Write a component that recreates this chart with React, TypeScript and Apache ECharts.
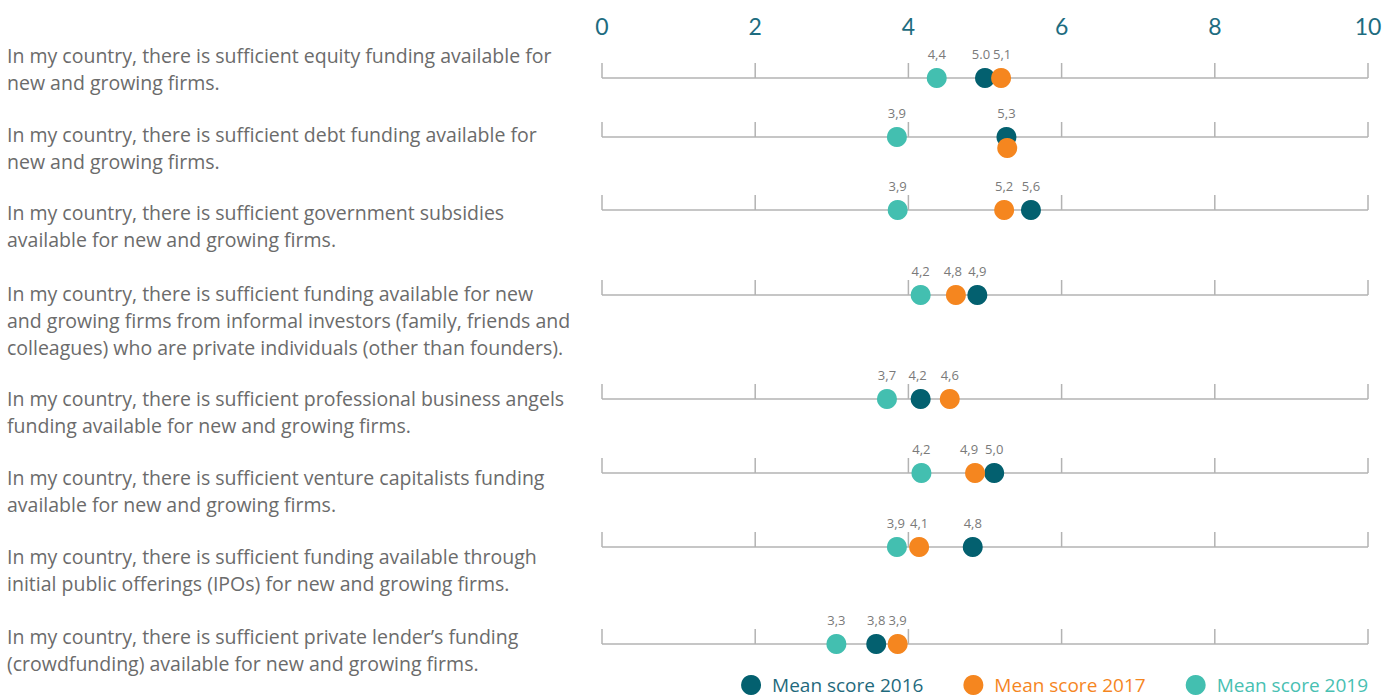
import React, { useEffect, useRef } from "react";
import * as echarts from "echarts";

const statements = [
  "In my country, there is sufficient equity funding available for\nnew and growing firms.",
  "In my country, there is sufficient debt funding available for\nnew and growing firms.",
  "In my country, there is sufficient government subsidies\navailable for new and growing firms.",
  "In my country, there is sufficient funding available for new\nand growing firms from informal investors (family, friends and\ncolleagues) who are private individuals (other than founders).",
  "In my country, there is sufficient professional business angels\nfunding available for new and growing firms.",
  "In my country, there is sufficient venture capitalists funding\navailable for new and growing firms.",
  "In my country, there is sufficient funding available through\ninitial public offerings (IPOs) for new and growing firms.",
  "In my country, there is sufficient private lender\u2019s funding\n(crowdfunding) available for new and growing firms.",
];

const xTicks = [0, 2, 4, 6, 8, 10];

const score2016 = [5.0, 5.28, 5.6, 4.9, 4.16, 5.12, 4.84, 3.58];
const score2017 = [5.21, 5.29, 5.25, 4.62, 4.54, 4.87, 4.14, 3.86];
const score2019 = [4.37, 3.85, 3.86, 4.16, 3.72, 4.17, 3.85, 3.06];

const label2016 = ["5.0", "5,3", "5,6", "4,9", "4,2", "5,0", "4,8", "3,8"];
const label2017 = ["5,1", "", "5,2", "4,8", "4,6", "4,9", "4,1", "3,9"];
const label2019 = ["4,4", "3,9", "3,9", "4,2", "3,7", "4,2", "3,9", "3,3"];

const seriesNames = ["Mean score 2016", "Mean score 2017", "Mean score 2019"];

// layout (pixel rows on the y axis) and small label nudges to avoid overlap
const ROW_Y = [78, 137, 210, 295, 399, 473, 547, 644];
const TEXT_Y = [55, 134, 212, 293, 398, 477, 556, 636];
const LABEL_SHIFT = [
  [-4, 0, 0, 0, -3, 0, 0, 0],
  [1, 0, 0, -3, 0, -6, 0, 0],
  [0, 0, 0, 0, 0, 0, -1, 0],
];
const COLORS = ["#03606f", "#f5861f", "#43bfb0"];
const LEGEND_TEXT = ["#1f6a7d", "#f5861f", "#48c0b2"];
const FONT = "'Open Sans'";

export default function App() {
  const ref = useRef<HTMLDivElement>(null);
  useEffect(() => {
    if (!ref.current) return;
    const chart = echarts.init(ref.current, undefined, { renderer: "svg" });

    const mkSeries = (idx: number, vals: number[], labels: string[]) => ({
      name: seriesNames[idx],
      type: "scatter",
      symbol: "circle",
      symbolSize: 20,
      z: 3,
      itemStyle: { color: COLORS[idx], opacity: 1 },
      label: {
        show: true,
        position: "top",
        distance: 8,
        color: "#7a7a7a",
        fontSize: 13,
        fontFamily: FONT,
        formatter: (p: any) => labels[p.dataIndex],
      },
      emphasis: { disabled: true },
      data: vals.map((v, i) => {
        const item: any = {
          value: [v, ROW_Y[i]],
          label: { offset: [LABEL_SHIFT[idx][i], 0] },
        };
        if (idx === 1 && labels[i] === "") {
          item.symbolOffset = [0, 11];
          item.label = { show: false };
        }
        return item;
      }),
    });

    chart.setOption({
      animation: false,
      grid: { left: 602, right: 27, top: 45, bottom: 0 },
      xAxis: {
        type: "value",
        position: "top",
        min: 0,
        max: 10,
        interval: 2,
        axisLine: { show: false },
        axisTick: { show: false },
        splitLine: { show: false },
        axisLabel: {
          margin: 8,
          color: "#1d6c80",
          fontSize: 23,
          fontFamily: "Lato",
        },
      },
      yAxis: {
        type: "value",
        min: 45,
        max: 697,
        inverse: true,
        show: false,
      },
      legend: {
        right: 22,
        top: 670,
        itemWidth: 20,
        itemHeight: 20,
        itemGap: 40,
        icon: "circle",
        selectedMode: false,
        data: seriesNames.map((n, i) => ({
          name: n,
          textStyle: {
            color: LEGEND_TEXT[i],
            fontSize: 19,
            fontFamily: FONT,
            padding: [0, 0, 0, 6],
          },
        })),
      },
      graphic: statements.map((s, i) => ({
        type: "text",
        left: 7,
        top: TEXT_Y[i] - 13,
        style: {
          text: s,
          fontSize: 19.5,
          lineHeight: 27,
          fontFamily: FONT,
          fill: "#6b6b6b",
          verticalAlign: "top",
        },
      })),
      series: [
        {
          type: "custom",
          silent: true,
          z: 1,
          data: ROW_Y.map((y) => [0, y]),
          renderItem: (params: any, api: any) => {
            const y = api.value(1);
            const p0 = api.coord([xTicks[0], y]);
            const p1 = api.coord([xTicks[xTicks.length - 1], y]);
            const children: any[] = [
              {
                type: "line",
                shape: { x1: p0[0], y1: p0[1], x2: p1[0], y2: p1[1] },
                style: { stroke: "#b3b3b3", lineWidth: 1.5 },
              },
            ];
            xTicks.forEach((t) => {
              const p = api.coord([t, y]);
              children.push({
                type: "line",
                shape: { x1: p[0], y1: p[1] - 15, x2: p[0], y2: p[1] },
                style: { stroke: "#b3b3b3", lineWidth: 1.5 },
              });
            });
            return { type: "group", children };
          },
        },
        mkSeries(0, score2016, label2016),
        mkSeries(1, score2017, label2017),
        mkSeries(2, score2019, label2019),
      ],
    });
    return () => chart.dispose();
  }, []);
  return (
    <div
      ref={ref}
      style={{ position: "absolute", left: 0, top: 0, width: 1395, height: 697 }}
    />
  );
}
